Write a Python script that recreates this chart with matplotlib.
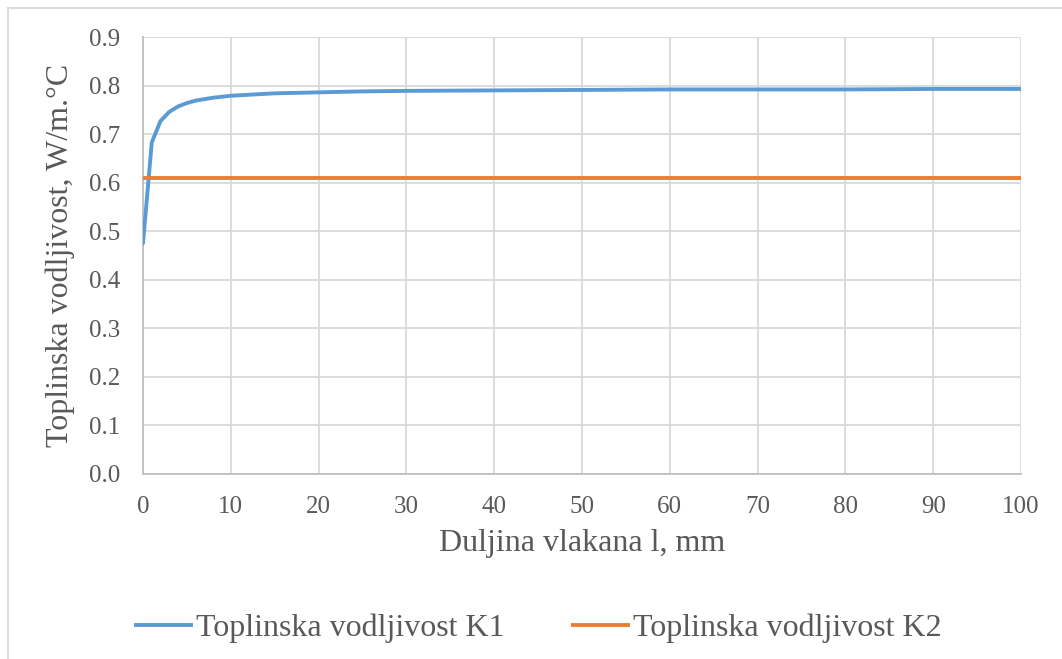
import matplotlib
matplotlib.use("Agg")
import matplotlib.pyplot as plt
from matplotlib.lines import Line2D

# fibre length, mm
length_k1 = [0, 1, 2, 3, 4, 5, 6, 7, 8, 9, 10, 12, 15, 20, 25, 30, 40, 50, 60, 70, 80, 90, 100]
# thermal conductivity K1, W/m.°C
cond_k1 = [0.475, 0.683, 0.727, 0.746, 0.757, 0.764, 0.769, 0.772, 0.775, 0.777, 0.779,
           0.781, 0.784, 0.786, 0.788, 0.789, 0.790, 0.791, 0.792, 0.792, 0.792, 0.793, 0.793]
length_k2 = [0, 100]
cond_k2 = [0.61, 0.61]

x_ticks = list(range(0, 101, 10))
y_ticks = [0.0, 0.1, 0.2, 0.3, 0.4, 0.5, 0.6, 0.7, 0.8, 0.9]

series_names = ["Toplinska vodljivost K1", "Toplinska vodljivost K2"]
x_label = "Duljina vlakana l, mm"
y_label = "Toplinska vodljivost, W/m.°C"

BLUE = "#5B9BD5"
ORANGE = "#ED7D31"
TEXT = "#595959"
GRID = "#D9D9D9"

plt.rcParams["font.family"] = ["Liberation Serif", "DejaVu Serif"]

W, H = 1062, 659
fig = plt.figure(figsize=(W / 100, H / 100), dpi=100)
ax = fig.add_axes([143 / W, 1 - 474 / H, (1021 - 143) / W, (474 - 37) / H])

ax.plot(length_k1, cond_k1, color=BLUE, lw=2.8, solid_capstyle="round", zorder=3)
ax.plot(length_k2, cond_k2, color=ORANGE, lw=2.8, solid_capstyle="round", zorder=3)

ax.set_xlim(0, 100)
ax.set_ylim(0, 0.9)
ax.set_xticks(x_ticks)
ax.set_yticks(y_ticks)
ax.set_yticklabels([f"{v:.1f}" for v in y_ticks])
ax.grid(True, color=GRID, lw=1.3)
ax.set_axisbelow(True)
for side in ("top", "right"):
    ax.spines[side].set_visible(False)
for side in ("left", "bottom"):
    ax.spines[side].set_color("#BFBFBF")
    ax.spines[side].set_linewidth(1.3)
ax.tick_params(length=0, labelsize=18, colors=TEXT)
ax.tick_params(axis="y", pad=16.5)
ax.tick_params(axis="x", pad=16)

ax.set_xlabel(x_label, fontsize=23, color=TEXT, labelpad=8)
ax.set_ylabel(y_label, fontsize=23, color=TEXT, labelpad=10)

handles = [Line2D([], [], color=BLUE, lw=2.8), Line2D([], [], color=ORANGE, lw=2.8)]
fig.legend(handles, series_names, loc="center", bbox_to_anchor=(539 / W, 1 - 628 / H),
           ncol=2, frameon=False, fontsize=23, handlelength=1.72, handletextpad=0.16,
           columnspacing=2.15, labelcolor=TEXT)

# outer chart frame
fig.add_artist(Line2D([8 / W, 1], [1 - 8 / H, 1 - 8 / H], color=GRID, lw=1.3))
fig.add_artist(Line2D([8 / W, 8 / W], [0, 1 - 8 / H], color=GRID, lw=1.3))

fig.savefig("out.png", dpi=100)
